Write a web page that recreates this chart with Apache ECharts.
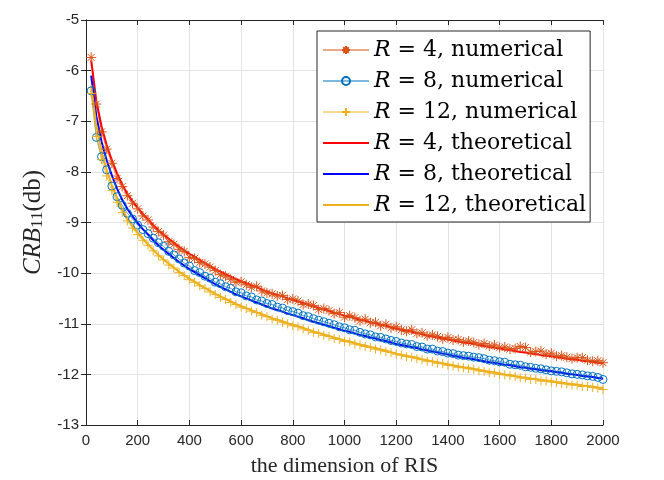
<!DOCTYPE html>
<html lang="en">
<head>
<meta charset="UTF-8">
<title>CRB vs dimension of RIS</title>
<style>
  html, body { margin: 0; padding: 0; background: #fff; }
  #main { width: 664px; height: 480px; }
</style>
<script src="https://cdn.jsdelivr.net/npm/echarts@6/dist/echarts.min.js"></script>
</head>
<body>
<div id="main"></div>
<script>
// RIS dimension (x positions of every sample)
var dims = [20, 40, 60, 80, 100, 120, 140, 160, 180, 200,
  220, 240, 260, 280, 300, 320, 340, 360, 380, 400,
  420, 440, 460, 480, 500, 520, 540, 560, 580, 600,
  620, 640, 660, 680, 700, 720, 740, 760, 780, 800,
  820, 840, 860, 880, 900, 920, 940, 960, 980, 1000,
  1020, 1040, 1060, 1080, 1100, 1120, 1140, 1160, 1180, 1200,
  1220, 1240, 1260, 1280, 1300, 1320, 1340, 1360, 1380, 1400,
  1420, 1440, 1460, 1480, 1500, 1520, 1540, 1560, 1580, 1600,
  1620, 1640, 1660, 1680, 1700, 1720, 1740, 1760, 1780, 1800,
  1820, 1840, 1860, 1880, 1900, 1920, 1940, 1960, 1980, 2000];

// numerical results (dB)
var num4 = [-5.74, -6.66, -7.21, -7.55, -7.83, -8.13, -8.29, -8.47, -8.62, -8.73,
  -8.87, -8.95, -9.09, -9.18, -9.25, -9.38, -9.43, -9.53, -9.57, -9.69,
  -9.71, -9.79, -9.82, -9.88, -9.95, -10.03, -10.06, -10.12, -10.18, -10.17,
  -10.23, -10.28, -10.26, -10.35, -10.39, -10.41, -10.45, -10.44, -10.52, -10.51,
  -10.55, -10.62, -10.61, -10.64, -10.72, -10.70, -10.74, -10.80, -10.78, -10.87,
  -10.84, -10.88, -10.94, -10.91, -10.98, -10.97, -11.04, -11.01, -11.08, -11.06,
  -11.12, -11.15, -11.12, -11.19, -11.18, -11.24, -11.22, -11.25, -11.30, -11.27,
  -11.32, -11.31, -11.36, -11.34, -11.37, -11.41, -11.39, -11.44, -11.42, -11.47,
  -11.46, -11.50, -11.49, -11.45, -11.47, -11.56, -11.55, -11.54, -11.60, -11.58,
  -11.64, -11.63, -11.66, -11.69, -11.67, -11.67, -11.72, -11.74, -11.73, -11.77];

var num8 = [-6.40, -7.32, -7.70, -7.96, -8.28, -8.49, -8.66, -8.82, -8.93, -9.05,
  -9.14, -9.22, -9.31, -9.40, -9.47, -9.57, -9.64, -9.72, -9.80, -9.86,
  -9.95, -9.99, -10.06, -10.10, -10.18, -10.21, -10.27, -10.30, -10.37, -10.39,
  -10.45, -10.47, -10.53, -10.55, -10.60, -10.62, -10.67, -10.69, -10.74, -10.76,
  -10.79, -10.84, -10.86, -10.90, -10.93, -10.96, -10.99, -11.02, -11.06, -11.08,
  -11.12, -11.13, -11.17, -11.20, -11.22, -11.26, -11.27, -11.30, -11.33, -11.35,
  -11.38, -11.40, -11.41, -11.45, -11.46, -11.50, -11.50, -11.54, -11.55, -11.58,
  -11.59, -11.62, -11.63, -11.64, -11.66, -11.67, -11.69, -11.72, -11.73, -11.75,
  -11.76, -11.80, -11.81, -11.82, -11.85, -11.86, -11.88, -11.89, -11.91, -11.93,
  -11.94, -11.95, -11.97, -11.99, -12.00, -12.01, -12.03, -12.04, -12.06, -12.10];

var num12 = [-6.45, -7.30, -7.76, -8.08, -8.37, -8.60, -8.80, -8.97, -9.11, -9.24,
  -9.35, -9.45, -9.56, -9.66, -9.74, -9.84, -9.90, -9.99, -10.05, -10.13,
  -10.18, -10.25, -10.30, -10.37, -10.42, -10.48, -10.52, -10.58, -10.62, -10.67,
  -10.70, -10.75, -10.78, -10.83, -10.86, -10.91, -10.93, -10.97, -11.00, -11.04,
  -11.06, -11.10, -11.13, -11.17, -11.19, -11.23, -11.25, -11.29, -11.31, -11.35,
  -11.36, -11.40, -11.42, -11.45, -11.47, -11.50, -11.52, -11.55, -11.57, -11.60,
  -11.62, -11.65, -11.66, -11.69, -11.71, -11.74, -11.75, -11.78, -11.79, -11.82,
  -11.83, -11.86, -11.87, -11.89, -11.90, -11.93, -11.94, -11.97, -11.97, -12.00,
  -12.01, -12.03, -12.04, -12.07, -12.07, -12.10, -12.10, -12.13, -12.13, -12.15,
  -12.16, -12.18, -12.19, -12.21, -12.21, -12.24, -12.24, -12.26, -12.27, -12.30];

// theoretical results (dB)
var theo4 = [-5.80, -6.60, -7.10, -7.47, -7.77, -8.03, -8.25, -8.43, -8.58, -8.71,
  -8.83, -8.94, -9.05, -9.15, -9.24, -9.32, -9.40, -9.48, -9.55, -9.62,
  -9.68, -9.74, -9.80, -9.86, -9.92, -9.97, -10.02, -10.07, -10.12, -10.16,
  -10.20, -10.24, -10.28, -10.32, -10.36, -10.40, -10.43, -10.46, -10.50, -10.53,
  -10.56, -10.59, -10.63, -10.66, -10.69, -10.72, -10.75, -10.78, -10.81, -10.84,
  -10.86, -10.89, -10.92, -10.94, -10.97, -10.99, -11.02, -11.04, -11.07, -11.10,
  -11.12, -11.14, -11.16, -11.18, -11.21, -11.23, -11.25, -11.27, -11.29, -11.31,
  -11.33, -11.35, -11.37, -11.38, -11.40, -11.42, -11.44, -11.46, -11.47, -11.49,
  -11.51, -11.52, -11.54, -11.56, -11.57, -11.59, -11.60, -11.62, -11.63, -11.64,
  -11.66, -11.67, -11.69, -11.70, -11.71, -11.73, -11.74, -11.75, -11.77, -11.78];

var theo8 = [-6.10, -6.90, -7.40, -7.77, -8.07, -8.33, -8.55, -8.73, -8.88, -9.01,
  -9.13, -9.24, -9.35, -9.45, -9.54, -9.62, -9.70, -9.78, -9.85, -9.92,
  -9.98, -10.04, -10.10, -10.16, -10.22, -10.27, -10.32, -10.37, -10.42, -10.46,
  -10.50, -10.54, -10.58, -10.62, -10.66, -10.70, -10.73, -10.76, -10.80, -10.83,
  -10.86, -10.89, -10.93, -10.96, -10.99, -11.02, -11.05, -11.08, -11.11, -11.14,
  -11.16, -11.19, -11.22, -11.24, -11.27, -11.29, -11.32, -11.34, -11.37, -11.40,
  -11.42, -11.44, -11.46, -11.48, -11.51, -11.53, -11.55, -11.57, -11.59, -11.61,
  -11.63, -11.65, -11.67, -11.68, -11.70, -11.72, -11.74, -11.76, -11.77, -11.79,
  -11.81, -11.82, -11.84, -11.86, -11.87, -11.89, -11.90, -11.92, -11.93, -11.94,
  -11.96, -11.97, -11.99, -12.00, -12.01, -12.03, -12.04, -12.05, -12.07, -12.08];

var theo12 = [-6.29, -7.09, -7.59, -7.96, -8.26, -8.52, -8.74, -8.92, -9.07, -9.20,
  -9.32, -9.43, -9.54, -9.64, -9.73, -9.81, -9.89, -9.97, -10.04, -10.11,
  -10.17, -10.23, -10.29, -10.35, -10.41, -10.46, -10.51, -10.56, -10.61, -10.65,
  -10.69, -10.73, -10.77, -10.81, -10.85, -10.89, -10.92, -10.95, -10.99, -11.02,
  -11.05, -11.08, -11.12, -11.15, -11.18, -11.21, -11.24, -11.27, -11.30, -11.33,
  -11.35, -11.38, -11.41, -11.43, -11.46, -11.48, -11.51, -11.53, -11.56, -11.59,
  -11.61, -11.63, -11.65, -11.67, -11.70, -11.72, -11.74, -11.76, -11.78, -11.80,
  -11.82, -11.84, -11.86, -11.87, -11.89, -11.91, -11.93, -11.95, -11.96, -11.98,
  -12.00, -12.01, -12.03, -12.05, -12.06, -12.08, -12.09, -12.11, -12.12, -12.13,
  -12.15, -12.16, -12.18, -12.19, -12.20, -12.22, -12.23, -12.24, -12.26, -12.27];

var seriesNames = ['R = 4, numerical', 'R = 8, numerical', 'R = 12, numerical',
  'R = 4, theoretical', 'R = 8, theoretical', 'R = 12, theoretical'];

function pairs(xs, ys) {
  var out = [];
  for (var i = 0; i < xs.length; i++) {
    out.push([xs[i], ys[i]]);
  }
  return out;
}

var starPath = 'path://M0,10L20,10M10,0L10,20M3,3L17,17M17,3L3,17';
var plusPath = 'path://M0,10L20,10M10,0L10,20';
var ink = '#262626';
var serif = 'Liberation Serif';
var legendSerif = 'DejaVu Serif';
var sans = 'Liberation Sans';

var chart = echarts.init(document.getElementById('main'));

var axisCommon = {
  axisLine: { show: true, lineStyle: { color: ink, width: 1 } },
  axisTick: { show: true, inside: true, length: 5, lineStyle: { color: ink } },
  splitLine: { show: false }
};

var legendItems = seriesNames.map(function (n, k) {
  if (k < 3) {
    return { name: n, lineStyle: { width: 1 } };
  }
  return { name: n, lineStyle: { width: 2 }, itemStyle: { opacity: 0 } };
});

var option = {
  animation: false,
  backgroundColor: '#fff',
  grid: { left: 86, right: 61, top: 20, bottom: 55, containLabel: false, outerBoundsMode: 'none' },
  xAxis: [
    echarts.util.merge({
      type: 'value', min: 0, max: 2000, interval: 200,
      name: 'the dimension of RIS', nameLocation: 'middle', nameGap: 30,
      nameTextStyle: { fontFamily: serif, fontSize: 22, color: ink },
      axisLabel: {
        fontFamily: sans, fontSize: 15, color: ink, margin: 8,
        formatter: function (v) { return String(v); }
      },
      splitLine: { show: true, lineStyle: { color: '#e3e3e3', width: 1 } }
    }, axisCommon, false),
    echarts.util.merge({
      type: 'value', min: 0, max: 2000, interval: 200, position: 'top',
      axisLabel: { show: false }
    }, axisCommon, false)
  ],
  yAxis: [
    echarts.util.merge({
      type: 'value', min: -13, max: -5, interval: 1,
      name: '{i|CRB}{s|11}{n|(db)}', nameLocation: 'middle', nameGap: 38, nameRotate: 90,
      nameTextStyle: {
        rich: {
          i: { fontFamily: serif, fontStyle: 'italic', fontSize: 25, lineHeight: 26, color: ink },
          s: { fontFamily: serif, fontSize: 17, lineHeight: 6, verticalAlign: 'bottom', color: ink },
          n: { fontFamily: serif, fontSize: 25, lineHeight: 26, color: ink }
        }
      },
      axisLabel: { fontFamily: sans, fontSize: 15, color: ink, margin: 7 },
      splitLine: { show: true, lineStyle: { color: '#e3e3e3', width: 1 } }
    }, axisCommon, false),
    echarts.util.merge({
      type: 'value', min: -13, max: -5, interval: 1, position: 'right',
      axisLabel: { show: false }
    }, axisCommon, false)
  ],
  legend: {
    orient: 'vertical',
    left: 317,
    top: 31,
    padding: [7, 4, 5, 5],
    itemWidth: 46,
    itemHeight: 10,
    itemGap: 7,
    itemTextGap: 5,
    backgroundColor: '#fff',
    borderColor: ink,
    borderWidth: 1,
    borderRadius: 0,
    data: legendItems,
    formatter: function (name) {
      return name.replace('R', '{i|R}');
    },
    textStyle: {
      fontFamily: legendSerif, fontSize: 22, lineHeight: 24, color: '#000',
      rich: {
        i: { fontFamily: legendSerif, fontStyle: 'italic', fontSize: 22, lineHeight: 24, color: '#000' }
      }
    }
  },
  series: [
    {
      name: seriesNames[0], type: 'line', data: pairs(dims, num4),
      symbol: starPath, symbolSize: 10, showAllSymbol: true,
      lineStyle: { color: '#D95319', width: 0.7 },
      itemStyle: { color: '#D95319', borderColor: '#D95319', borderWidth: 1 }
    },
    {
      name: seriesNames[1], type: 'line', data: pairs(dims, num8),
      symbol: 'circle', symbolSize: 8, showAllSymbol: true,
      lineStyle: { color: '#0072BD', width: 0.7 },
      itemStyle: { color: 'rgba(0,0,0,0)', borderColor: '#0072BD', borderWidth: 1 }
    },
    {
      name: seriesNames[2], type: 'line', data: pairs(dims, num12),
      symbol: plusPath, symbolSize: 9, showAllSymbol: true,
      lineStyle: { color: '#EDB120', width: 0.7 },
      itemStyle: { color: '#EDB120', borderColor: '#EDB120', borderWidth: 1 }
    },
    {
      name: seriesNames[3], type: 'line', data: pairs(dims, theo4),
      symbol: 'none', lineStyle: { color: '#FF0000', width: 2 },
      itemStyle: { color: '#FF0000' }
    },
    {
      name: seriesNames[4], type: 'line', data: pairs(dims, theo8),
      symbol: 'none', lineStyle: { color: '#0000FF', width: 2 },
      itemStyle: { color: '#0000FF' }
    },
    {
      name: seriesNames[5], type: 'line', data: pairs(dims, theo12),
      symbol: 'none', lineStyle: { color: '#EDB120', width: 2 },
      itemStyle: { color: '#EDB120' }
    }
  ]
};

chart.setOption(option);
</script>
</body>
</html>
